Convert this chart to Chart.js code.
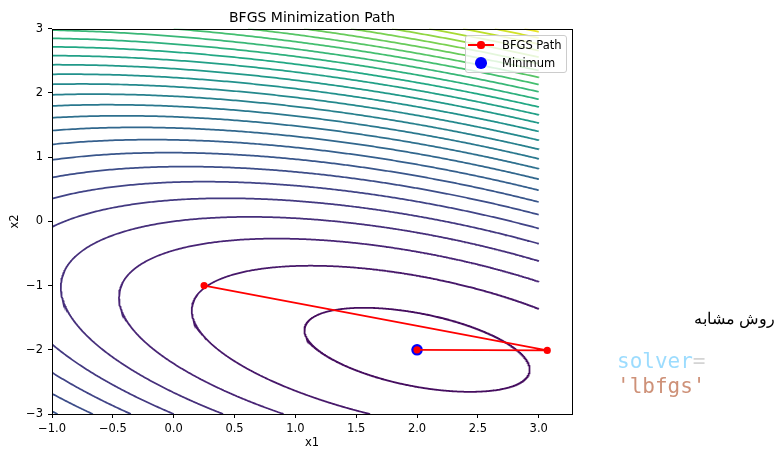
<!DOCTYPE html>
<html lang="en">
<head>
<meta charset="utf-8">
<title>BFGS Minimization Path</title>
<script src="https://cdn.jsdelivr.net/npm/chart.js@4.4.1/dist/chart.umd.min.js"></script>
<style>
  html, body { margin: 0; padding: 0; background: #ffffff; }
  #stage { position: relative; width: 780px; height: 450px; overflow: hidden; background: #ffffff; }
  #plot { position: absolute; left: 0; top: 0; }
  #legend {
    position: absolute; left: 465px; top: 35px; width: 102px; height: 38px;
    box-sizing: border-box; border: 1px solid #cccccc; border-radius: 3px;
    background: rgba(255, 255, 255, 0.8);
    font-family: "DejaVu Sans", sans-serif; font-size: 11.5px; color: #000;
  }
  #legend .item { position: absolute; left: 0; width: 100%; height: 16px; }
  #legend .line { position: absolute; left: 2px; top: 7px; width: 26px; height: 2px; }
  #legend .dot { position: absolute; border-radius: 50%; }
  #legend .label { position: absolute; left: 36px; top: 1px; line-height: 14px; white-space: nowrap; }
  #note {
    position: absolute; right: 5px; top: 309px; direction: rtl;
    font-family: "Liberation Serif", "DejaVu Serif", serif; font-size: 16px; line-height: 20px; color: #000;
  }
  #code {
    position: absolute; left: 617px; top: 349px; white-space: pre;
    font-family: "DejaVu Sans Mono", "Liberation Mono", monospace; font-size: 21px; line-height: 25px;
  }
  #code .kw { color: #9cdcfe; }
  #code .op { color: #d4d4d4; }
  #code .str { color: #ce9178; }
</style>
</head>
<body>
<div id="stage">
  <canvas id="plot" width="780" height="450"></canvas>
  <div id="legend"></div>
  <div id="note">روش مشابه</div>
  <div id="code"><span class="kw">solver</span><span class="op">=</span>
<span class="str">'lbfgs'</span></div>
</div>
<script>
// Quadratic objective f(x) = 0.5 * x^T A x - b^T x
const matrixA = [[3, 2], [2, 6]];
const vectorB = [2, -8];

// Domain of the contour grid
const gridX = [-1, 3];
const gridY = [-3, 3];

// Contour levels and the value range mapped onto the colormap
const contourLevels = [-9, -6, -3, 0, 3, 6, 9, 12, 15, 18, 21, 24, 27, 30, 33,
  36, 39, 42, 45, 48, 51, 54, 57, 60, 63, 66, 69, 72, 75];
const levelRange = [-12, 78];

// BFGS iterates and the located minimum
const pathX = [0.25, 3.07, 2.0];
const pathY = [-1.0, -2.01, -2.0];
const minimumX = [2.0];
const minimumY = [-2.0];

// Axis ticks
const xTicks = [-1.0, -0.5, 0.0, 0.5, 1.0, 1.5, 2.0, 2.5, 3.0];
const yTicks = [-3, -2, -1, 0, 1, 2, 3];

// Viridis samples at t = 0, 0.1, ..., 1
const VIRIDIS = ['#440154', '#482475', '#414487', '#355f8d', '#2a788e', '#21918c',
  '#22a884', '#44bf70', '#7ad151', '#bddf26', '#fde725'];

function hexToRgb(h) {
  return [parseInt(h.slice(1, 3), 16), parseInt(h.slice(3, 5), 16), parseInt(h.slice(5, 7), 16)];
}
function viridis(t) {
  t = Math.min(1, Math.max(0, t));
  const s = t * (VIRIDIS.length - 1);
  const i = Math.min(VIRIDIS.length - 2, Math.floor(s));
  const f = s - i;
  const a = hexToRgb(VIRIDIS[i]), b = hexToRgb(VIRIDIS[i + 1]);
  const c = a.map((v, k) => Math.round(v + (b[k] - v) * f));
  return `rgb(${c[0]},${c[1]},${c[2]})`;
}

const [[a00, a01], [a10, a11]] = matrixA;
const [b0, b1] = vectorB;
const det = a00 * a11 - a01 * a10;
const centerX = (a11 * b0 - a01 * b1) / det;
const centerY = (a00 * b1 - a10 * b0) / det;
function objective(x, y) {
  return 0.5 * (a00 * x * x + (a01 + a10) * x * y + a11 * y * y) - b0 * x - b1 * y;
}
const fMin = objective(centerX, centerY);

function insideGrid(p) {
  return p[0] >= gridX[0] && p[0] <= gridX[1] && p[1] >= gridY[0] && p[1] <= gridY[1];
}

// Level set of the quadratic, traced in polar form around the minimiser and
// clipped to the grid domain. Returns one polyline per visible piece.
function levelCurves(level) {
  const N = 1440;
  const point = (t) => {
    const u = Math.cos(t), v = Math.sin(t);
    const q = 0.5 * (a00 * u * u + (a01 + a10) * u * v + a11 * v * v);
    const r = Math.sqrt((level - fMin) / q);
    return [centerX + r * u, centerY + r * v];
  };
  const angle = (k) => 2 * Math.PI * k / N;
  const edge = (tOut, tIn) => {
    for (let i = 0; i < 50; i++) {
      const m = 0.5 * (tOut + tIn);
      if (insideGrid(point(m))) tIn = m; else tOut = m;
    }
    const p = point(tIn);
    return [Math.min(gridX[1], Math.max(gridX[0], p[0])), Math.min(gridY[1], Math.max(gridY[0], p[1]))];
  };
  const inside = [];
  for (let k = 0; k < N; k++) inside.push(insideGrid(point(angle(k))));
  const start = inside.indexOf(false);
  if (start < 0) {
    const loop = [];
    for (let k = 0; k <= N; k++) loop.push(point(angle(k)));
    return [loop];
  }
  const runs = [];
  let cur = null;
  for (let k = 1; k <= N; k++) {
    const iPrev = (start + k - 1) % N, iCur = (start + k) % N;
    const t0 = angle(start + k - 1), t1 = angle(start + k);
    if (inside[iCur] && !inside[iPrev]) {
      cur = [edge(t0, t1), point(t1)];
    } else if (inside[iCur]) {
      cur.push(point(t1));
    } else if (inside[iPrev]) {
      cur.push(edge(t1, t0));
      runs.push(cur);
      cur = null;
    }
  }
  return runs;
}

const contourDatasets = [];
contourLevels.forEach((lv) => {
  const color = viridis((lv - levelRange[0]) / (levelRange[1] - levelRange[0]));
  levelCurves(lv).forEach((run) => {
    contourDatasets.push({
      data: run.map((p) => ({ x: p[0], y: p[1] })),
      showLine: true,
      borderColor: color,
      borderWidth: 1.75,
      pointRadius: 0,
      pointHitRadius: 0,
      tension: 0,
      fill: false
    });
  });
});

const pathDataset = {
  label: 'BFGS Path',
  data: pathX.map((x, i) => ({ x, y: pathY[i] })),
  showLine: true,
  borderColor: '#ff0000',
  backgroundColor: '#ff0000',
  borderWidth: 1.75,
  pointRadius: 3.6,
  pointBorderWidth: 0,
  tension: 0
};
const minimumDataset = {
  label: 'Minimum',
  data: minimumX.map((x, i) => ({ x, y: minimumY[i] })),
  showLine: false,
  backgroundColor: '#0000ff',
  borderColor: '#0000ff',
  pointRadius: 5.8,
  pointBorderWidth: 0
};

// Axis extent: grid edges, widened on the right by a 5 % margin around the path
const xSpan = Math.max(...pathX) - gridX[0];
const xMax = Math.max(gridX[1], Math.max(...pathX) + 0.05 * xSpan);

const minus = (s) => s.replace('-', '\u2212');

// Axes box drawn on all four sides
const framePlugin = {
  id: 'frame',
  afterDatasetsDraw(chart) {
    const { ctx, chartArea: a } = chart;
    ctx.save();
    ctx.strokeStyle = '#000';
    ctx.lineWidth = 1;
    ctx.strokeRect(Math.round(a.left) + 0.5, Math.round(a.top) + 0.5,
      Math.round(a.right - a.left), Math.round(a.bottom - a.top));
    ctx.restore();
  }
};

const tickFont = { family: '"DejaVu Sans", sans-serif', size: 11.5 };

const chart = new Chart(document.getElementById('plot'), {
  type: 'scatter',
  data: { datasets: [pathDataset, minimumDataset, ...contourDatasets] },
  options: {
    responsive: false,
    devicePixelRatio: 1,
    animation: false,
    events: [],
    layout: { padding: { left: 0, right: 208, top: 0, bottom: 0 } },
    plugins: {
      legend: { display: false },
      tooltip: { enabled: false },
      title: {
        display: true,
        fullSize: false,
        text: 'BFGS Minimization Path',
        color: '#000',
        font: { family: '"DejaVu Sans", sans-serif', size: 14, weight: 'normal', lineHeight: 1.2 },
        padding: { top: 10, bottom: 2 }
      }
    },
    scales: {
      x: {
        type: 'linear',
        min: gridX[0],
        max: xMax,
        afterBuildTicks: (s) => { s.ticks = xTicks.map((v) => ({ value: v })); },
        afterFit: (s) => { s.height = 36; },
        ticks: {
          color: '#000', font: tickFont, padding: 4, maxRotation: 0, autoSkip: false,
          callback: (v) => minus(Number(v).toFixed(1))
        },
        grid: { drawOnChartArea: false, drawTicks: true, tickLength: 4, tickColor: '#000', lineWidth: 1 },
        border: { display: false },
        title: { display: true, text: 'x1', color: '#000', font: tickFont, padding: { top: 0, bottom: 0 } }
      },
      y: {
        type: 'linear',
        min: gridY[0],
        max: gridY[1],
        afterBuildTicks: (s) => { s.ticks = yTicks.map((v) => ({ value: v })); },
        afterFit: (s) => { s.width = 52; },
        ticks: {
          color: '#000', font: tickFont, padding: 5, autoSkip: false,
          callback: (v) => minus(String(v))
        },
        grid: { drawOnChartArea: false, drawTicks: true, tickLength: 4, tickColor: '#000', lineWidth: 1 },
        border: { display: false },
        title: { display: true, text: 'x2', color: '#000', font: tickFont, padding: { top: 8, bottom: 0 } }
      }
    }
  },
  plugins: [framePlugin]
});

// HTML legend built from the labelled datasets
(function buildLegend() {
  const box = document.getElementById('legend');
  const rows = chart.data.datasets.filter((d) => d.label);
  rows.forEach((d, i) => {
    const item = document.createElement('div');
    item.className = 'item';
    item.style.top = (1 + i * 18) + 'px';
    if (d.showLine) {
      const line = document.createElement('div');
      line.className = 'line';
      line.style.background = d.borderColor;
      item.appendChild(line);
    }
    const dot = document.createElement('div');
    dot.className = 'dot';
    const r = d.pointRadius;
    dot.style.width = dot.style.height = (2 * r) + 'px';
    dot.style.left = (15 - r) + 'px';
    dot.style.top = (8 - r) + 'px';
    dot.style.background = d.backgroundColor;
    item.appendChild(dot);
    const label = document.createElement('div');
    label.className = 'label';
    label.textContent = d.label;
    item.appendChild(label);
    box.appendChild(item);
  });
})();
</script>
</body>
</html>
